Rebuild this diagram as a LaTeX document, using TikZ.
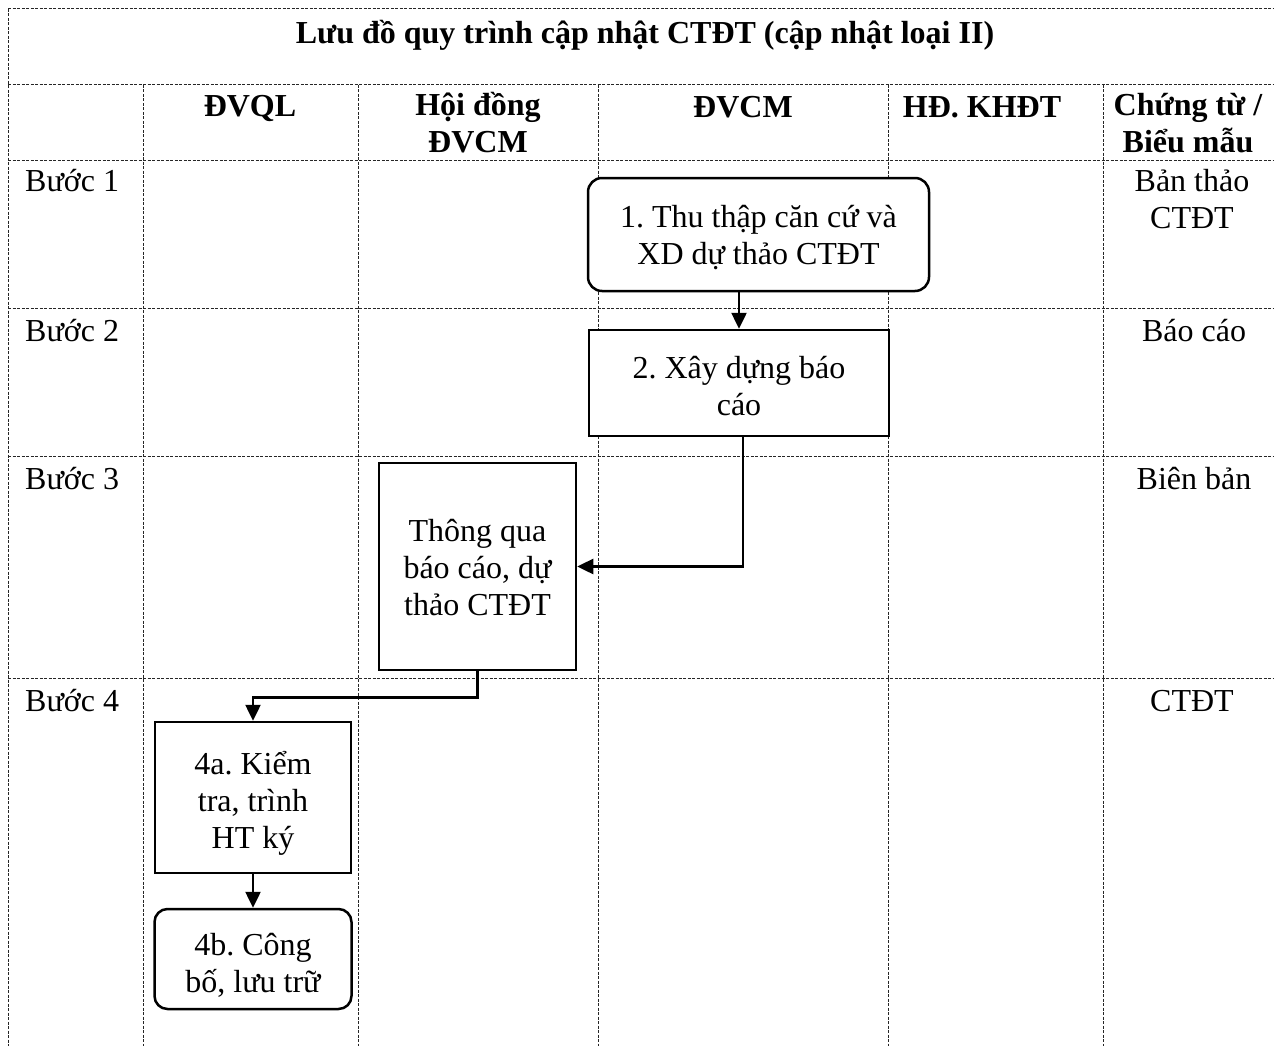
\documentclass[tikz,border=0pt]{standalone}
\usepackage{fontspec}
\setmainfont{Liberation Serif}
\usetikzlibrary{arrows.meta,calc}
\frenchspacing
\newcommand{\boxtext}[3]{\raisebox{-#1pt}[\height][\depth]{\parbox{#2pt}{\centering\baselineskip=37pt #3}}}
\begin{document}
\begin{tikzpicture}[x=1pt,y=-1pt,
  every node/.style={font=\fontsize{32}{37}\selectfont, inner sep=0pt},
  grid/.style={line width=1pt, black!85, dash pattern=on 3pt off 1.5pt},
  procbox/.style={draw, fill=white, line width=2.5pt, align=center},
  termbox/.style={procbox, rounded corners=14pt},
  hdr/.style={font=\fontsize{32}{37}\selectfont\bfseries, align=center},
  lbl/.style={align=center},
  arr/.style={line width=2.5pt, -{Triangle[length=16pt,width=15pt]}}
]
\useasboundingbox (0,0) rectangle (1274,1046);
% grid
\draw[grid] (8,9) -- (1274,9);
\foreach \yy in {85,160,308,456,678} \draw[grid] (8,\yy) -- (1274,\yy);
\draw[grid] (8,9) -- (8,1046);
\foreach \xx in {143,358,598,888,1103} \draw[grid] (\xx,85) -- (\xx,1046);
% title and headers
\node[hdr] (title) at (645,35) {Lưu đồ quy trình cập nhật CTĐT (cập nhật loại II)};
\node[hdr] (h1) at (250,109) {ĐVQL};
\node[hdr] (h2) at (478,123) {Hội đồng\\ĐVCM};
\node[hdr] (h3) at (743,107) {ĐVCM};
\node[hdr] (h4) at (982,107) {HĐ. KHĐT};
\node[hdr] (h5) at (1188,123) {Chứng từ /\\Biểu mẫu};
% row labels
\node[anchor=west] (r1) at (25,181) {Bước 1};
\node[anchor=west] (r2) at (25,331) {Bước 2};
\node[anchor=west] (r3) at (25,479) {Bước 3};
\node[anchor=west] (r4) at (25,701) {Bước 4};
% documents column
\node[lbl] (d1) at (1192,199) {Bản thảo\\CTĐT};
\node[lbl] (d2) at (1194,331) {Báo cáo};
\node[lbl] (d3) at (1194,479) {Biên bản};
\node[lbl] (d4) at (1192,701) {CTĐT};
% process boxes
\node[termbox, minimum width=341pt, minimum height=113pt] (b1) at (758.5,234.5) {\boxtext{3}{335}{1. Thu thập căn cứ và\\XD dự thảo CTĐT}};
\node[procbox, minimum width=300pt, minimum height=106pt] (b2) at (739,383) {\boxtext{3}{290}{2. Xây dựng báo\\cáo}};
\node[procbox, minimum width=197pt, minimum height=207pt] (b3) at (477.5,566.5) {\boxtext{1}{190}{Thông qua\\báo cáo, dự\\thảo CTĐT}};
\node[procbox, minimum width=196pt, minimum height=151pt] (b4a) at (253,797.5) {\boxtext{6}{190}{4a. Kiểm\\tra, trình\\HT ký}};
\node[termbox, rounded corners=13pt, minimum width=197pt, minimum height=100pt] (b4b) at (253,959) {\boxtext{6}{190}{4b. Công\\bố, lưu trữ}};
% connectors
\draw[arr] (b2.north |- b1.south) -- (b2.north);
\draw[arr] ($(b2.south)+(4,0)$) |- (b3.east);
\draw[arr] (b3.south) -- ++(0,26) -| (b4a.north);
\draw[arr] (b4a.south) -- (b4b.north);
\end{tikzpicture}
\end{document}
